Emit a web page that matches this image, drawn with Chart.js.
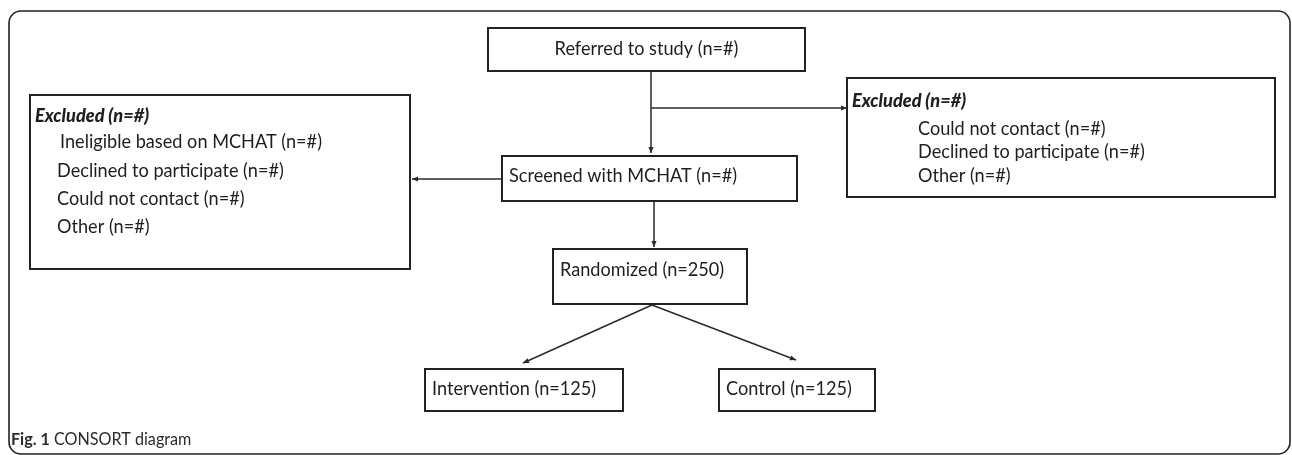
<!DOCTYPE html>
<html><head><meta charset="utf-8">
<script src="https://cdn.jsdelivr.net/npm/chart.js@4"></script>
<style>html,body{margin:0;padding:0;background:#fff;overflow:hidden}#wrap{width:1292px;height:455px;position:relative}</style>
</head><body><div id="wrap"><canvas id="c"></canvas></div>
<script>
// Diagram data (in diagram units, mapped through the chart's linear scales)
const boxNames   = ['referred','screened','randomized','intervention','control','excludedLeft','excludedRight'];
const boxLeft    = [488, 502, 553, 425, 719,  30,  847];
const boxTop     = [ 28, 156, 249, 369, 369,  95,   78];
const boxRight   = [805, 797, 747, 623, 875, 410, 1275];
const boxBottom  = [ 71, 201, 304, 411, 411, 269,  197];

const textLabels = ['Referred to study (n=#)','Screened with MCHAT (n=#)','Randomized (n=250)','Intervention (n=125)','Control (n=125)',
  'Excluded (n=#)','Ineligible based on MCHAT (n=#)','Declined to participate (n=#)','Could not contact (n=#)','Other (n=#)',
  'Excluded (n=#)','Could not contact (n=#)','Declined to participate (n=#)','Other (n=#)'];
const textX      = [646.5, 509, 560, 432, 726, 35, 60, 57, 57, 57, 852, 918, 918, 918];
const textY      = [55, 182, 276, 395, 395, 122, 148, 177, 205, 233, 107, 135, 158, 182];
const textHeader = [0,0,0,0,0, 1,0,0,0,0, 1,0,0,0];
const textCenter = [1,0,0,0,0, 0,0,0,0,0, 0,0,0,0];

// connectors: from (x1,y1) to arrow tip (x2,y2)
const linkFromX = [651, 651, 502, 654, 652, 652];
const linkFromY = [ 71, 108, 179, 201, 305, 305];
const linkToX   = [651, 847, 412, 654, 523, 796];
const linkToY   = [153, 108, 179, 247, 363, 360];

const captionBold = 'Fig. 1';
const captionText = ' CONSORT diagram';
const frameRect = [9, 11, 1290, 454];

const datasets = linkFromX.map((x, i) => ({
  data: [{x: x, y: linkFromY[i]}, {x: linkToX[i], y: linkToY[i]}],
  showLine: true, borderColor: '#2a2a2a', borderWidth: 1.5, pointRadius: 0, fill: false
}));

const FONT = 'Lato, "Open Sans", sans-serif';
const SX = 0.93;

const diagramPlugin = {
  id: 'diagram',
  beforeDatasetsDraw(chart) {
    const ctx = chart.ctx, xs = chart.scales.x, ys = chart.scales.y;
    const px = v => xs.getPixelForValue(v), py = v => ys.getPixelForValue(v);
    ctx.save();
    const fl = px(frameRect[0]), ft = py(frameRect[1]), fr = px(frameRect[2]), fb = py(frameRect[3]);
    ctx.strokeStyle = '#222'; ctx.lineWidth = 1.6;
    ctx.beginPath(); ctx.roundRect(fl, ft, fr - fl, fb - ft, 12); ctx.stroke();
    ctx.restore();
  },
  afterDatasetsDraw(chart) {
    const ctx = chart.ctx, xs = chart.scales.x, ys = chart.scales.y;
    const px = v => xs.getPixelForValue(v), py = v => ys.getPixelForValue(v);
    ctx.save();
    ctx.fillStyle = '#2a2a2a';
    for (let i = 0; i < linkToX.length; i++) {
      const x1 = px(linkFromX[i]), y1 = py(linkFromY[i]), x2 = px(linkToX[i]), y2 = py(linkToY[i]);
      const a = Math.atan2(y2 - y1, x2 - x1), L = 6, W = 2.6;
      ctx.beginPath();
      ctx.moveTo(x2, y2);
      ctx.lineTo(x2 - L * Math.cos(a) + W * Math.sin(a), y2 - L * Math.sin(a) - W * Math.cos(a));
      ctx.lineTo(x2 - L * Math.cos(a) - W * Math.sin(a), y2 - L * Math.sin(a) + W * Math.cos(a));
      ctx.closePath(); ctx.fill();
    }
    ctx.strokeStyle = '#222'; ctx.lineWidth = 2;
    for (let i = 0; i < boxNames.length; i++) {
      const l = px(boxLeft[i]), t = py(boxTop[i]), r = px(boxRight[i]), b = py(boxBottom[i]);
      ctx.fillStyle = '#fff'; ctx.fillRect(l, t, r - l, b - t);
      ctx.strokeRect(l, t, r - l, b - t);
    }
    ctx.fillStyle = '#1e1e1e'; ctx.textBaseline = 'alphabetic';
    for (let i = 0; i < textLabels.length; i++) {
      ctx.save();
      ctx.font = textHeader[i] ? 'italic 900 19.5px ' + FONT : '19.5px ' + FONT;
      const x = px(textX[i]), y = py(textY[i]);
      ctx.translate(x, y); ctx.scale(SX, 1);
      ctx.textAlign = textCenter[i] ? 'center' : 'left';
      ctx.fillText(textLabels[i], 0, 0);
      ctx.restore();
    }
    ctx.save();
    ctx.fillStyle = '#2b2b2b';
    const cx = px(11), cy = py(445);
    ctx.translate(cx, cy); ctx.scale(0.95, 1);
    ctx.font = 'bold 17px ' + FONT; ctx.textAlign = 'left';
    ctx.fillText(captionBold, 0, 0);
    const w = ctx.measureText(captionBold).width;
    ctx.font = '17px ' + FONT;
    ctx.fillText(captionText, w, 0);
    ctx.restore();
    ctx.restore();
  }
};

new Chart(document.getElementById('c'), {
  type: 'scatter',
  data: { datasets },
  options: {
    responsive: true, maintainAspectRatio: false, animation: false, events: [],
    layout: { padding: 0 },
    plugins: { legend: { display: false }, tooltip: { enabled: false } },
    scales: {
      x: { type: 'linear', min: 0, max: 1292, display: false },
      y: { type: 'linear', min: 0, max: 455, reverse: true, display: false }
    }
  },
  plugins: [diagramPlugin]
});
</script></body></html>
